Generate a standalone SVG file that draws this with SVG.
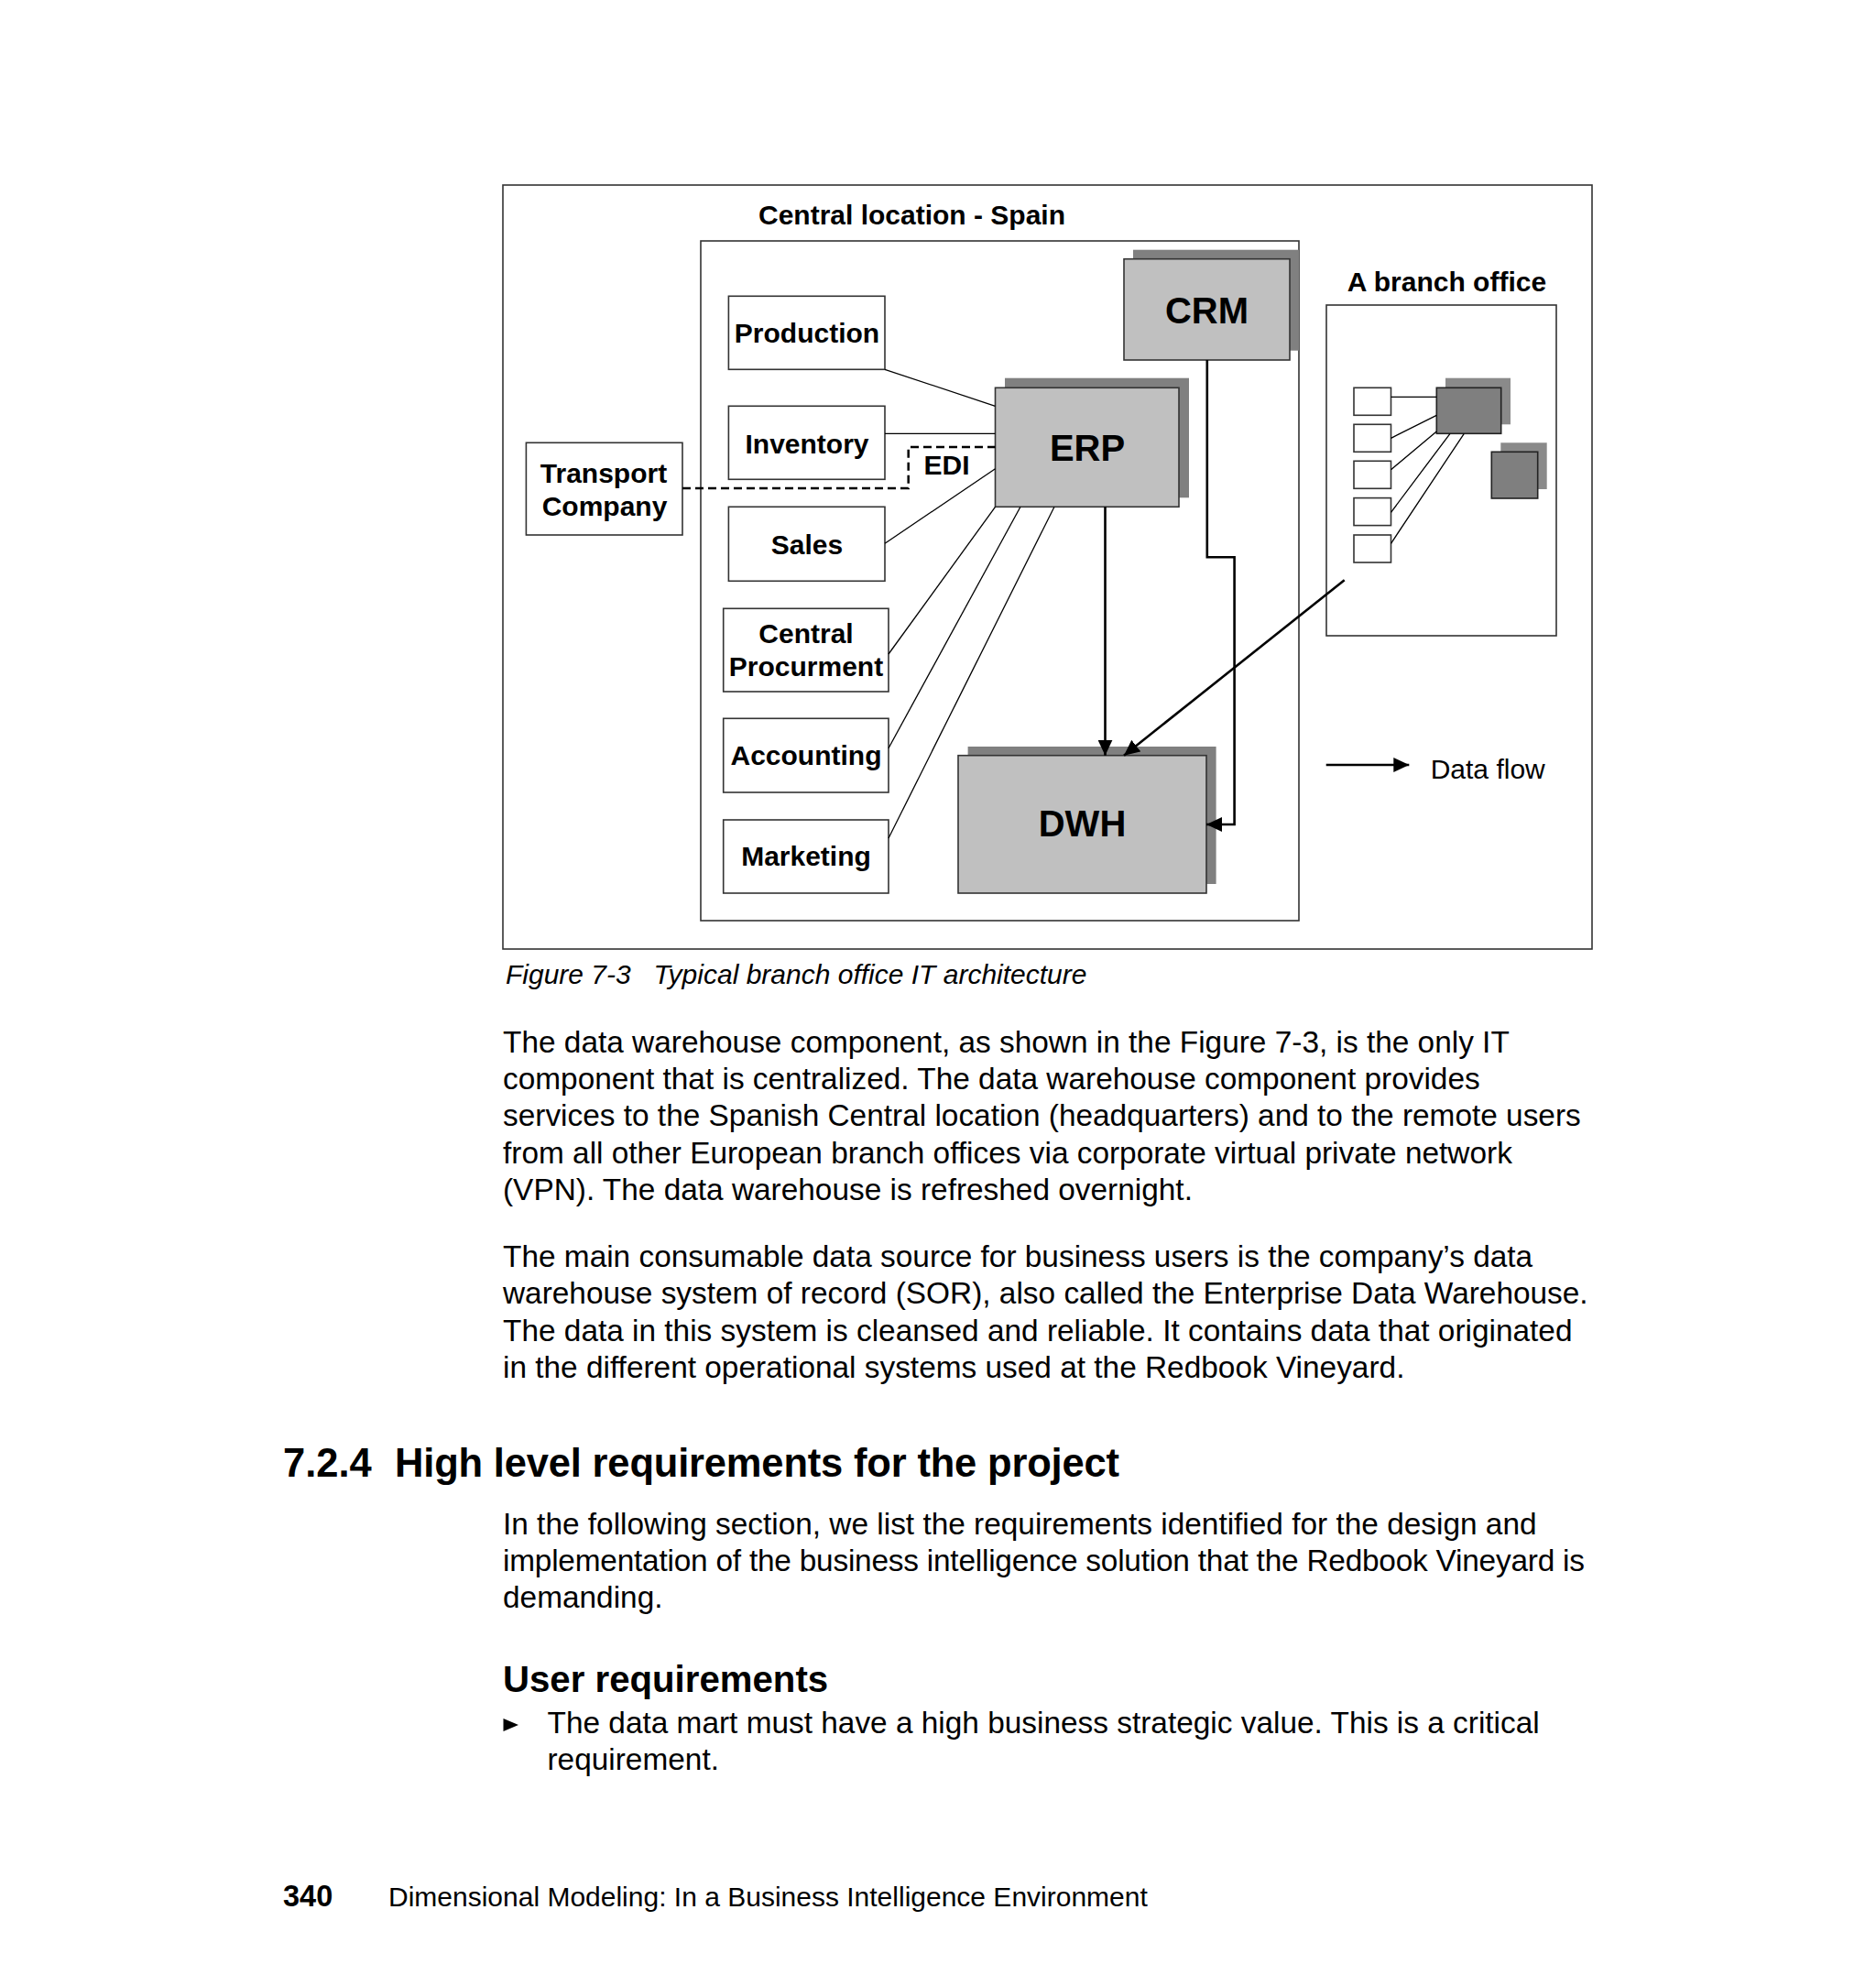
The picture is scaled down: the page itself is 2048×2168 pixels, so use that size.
<svg xmlns="http://www.w3.org/2000/svg" width="2048" height="2168" viewBox="0 0 2048 2168">
<defs>
<style>
.frame{fill:#fff;stroke:#333;stroke-width:1.6}
.box{fill:#fff;stroke:#333;stroke-width:1.6}
.sys{fill:#c0c0c0;stroke:#333;stroke-width:1.6}
.shadow{fill:#808080;stroke:none}
.dark{fill:#7f7f7f;stroke:#222;stroke-width:1.6}
.dshadow{fill:#8a8a8a;stroke:none}
.lbl{font-family:"Liberation Sans",Arial,Helvetica,sans-serif;font-weight:bold;font-size:30px;fill:#000;text-anchor:middle}
.big{font-family:"Liberation Sans",Arial,Helvetica,sans-serif;font-weight:bold;font-size:40px;fill:#000;text-anchor:middle}
.thin{fill:none;stroke:#000;stroke-width:1.3}
.flow{fill:none;stroke:#000;stroke-width:2.6}
.dash{fill:none;stroke:#000;stroke-width:2.5;stroke-dasharray:9 5}
.body{font-family:"Liberation Sans",Arial,Helvetica,sans-serif;font-size:33.4px;fill:#000}
.cap{font-family:"Liberation Sans",Arial,Helvetica,sans-serif;font-size:30px;font-style:italic;fill:#000}
</style>
<marker id="arr" markerUnits="userSpaceOnUse" markerWidth="18" markerHeight="16" refX="17" refY="8" orient="auto" viewBox="0 0 18 16">
<path d="M0,0 L17,8 L0,16 z" fill="#000"/>
</marker>
</defs>
<rect x="0" y="0" width="2048" height="2168" fill="#fff"/>

<g id="figure-frame">
<rect class="frame" x="549" y="202" width="1189" height="834"/>
</g>

<g id="central-location">
<rect class="frame" x="765" y="263" width="653" height="742"/>
<text class="lbl" x="995.5" y="245">Central location - Spain</text>
</g>

<g id="branch-office">
<rect class="frame" x="1448" y="333" width="251" height="361"/>
<text class="lbl" x="1579.5" y="318">A branch office</text>
<rect class="box" x="1478" y="423.3" width="40.5" height="30"/>
<rect class="box" x="1478" y="463.3" width="40.5" height="30"/>
<rect class="box" x="1478" y="503.3" width="40.5" height="30"/>
<rect class="box" x="1478" y="543.6" width="40.5" height="30"/>
<rect class="box" x="1478" y="584" width="40.5" height="30"/>
<rect class="dshadow" x="1578" y="412.7" width="71" height="50.6"/>
<rect class="dark" x="1568.3" y="423.3" width="70.4" height="50"/>
<rect class="dshadow" x="1638.3" y="483.3" width="50.4" height="50.7"/>
<rect class="dark" x="1628.3" y="493.3" width="50.4" height="50.7"/>
<path class="thin" d="M1518.5,433.3 H1568.3 M1518.5,478.3 L1568.3,453.3 M1518.5,512.7 L1568.3,471 M1518.5,559.3 L1583,473.3 M1518.5,593.3 L1598.3,473.3"/>
</g>

<g id="crm">
<rect class="shadow" x="1237" y="272.7" width="181" height="110"/>
<rect class="sys" x="1227" y="282.7" width="181" height="110.3"/>
<text class="big" x="1317.5" y="352.7">CRM</text>
</g>

<g id="erp">
<rect class="shadow" x="1097" y="412.7" width="201" height="130.6"/>
<rect class="sys" x="1086.5" y="423.3" width="200.5" height="130"/>
<text class="big" x="1187" y="503">ERP</text>
</g>

<g id="dwh">
<rect class="shadow" x="1056.6" y="815" width="271" height="150"/>
<rect class="sys" x="1046" y="824.7" width="271" height="150.3"/>
<text class="big" x="1181.5" y="913.3">DWH</text>
</g>

<g id="production">
<rect class="box" x="795.4" y="323.3" width="170.6" height="80"/>
<text class="lbl" x="881" y="374">Production</text>
</g>

<g id="inventory">
<rect class="box" x="795.4" y="443.3" width="170.6" height="80"/>
<text class="lbl" x="881" y="495">Inventory</text>
</g>

<g id="sales">
<rect class="box" x="795.4" y="553.3" width="170.6" height="81"/>
<text class="lbl" x="881" y="605">Sales</text>
</g>

<g id="central-procurment">
<rect class="box" x="789.7" y="664.3" width="180.3" height="90.7"/>
<text class="lbl" x="880" y="701.7">Central</text>
<text class="lbl" x="880" y="738.3">Procurment</text>
</g>

<g id="accounting">
<rect class="box" x="789.7" y="784.3" width="180.3" height="80.7"/>
<text class="lbl" x="880" y="835">Accounting</text>
</g>

<g id="marketing">
<rect class="box" x="789.7" y="895" width="180.3" height="80"/>
<text class="lbl" x="880" y="945">Marketing</text>
</g>

<g id="transport-company">
<rect class="box" x="574.4" y="483.3" width="170.6" height="100.7"/>
<text class="lbl" x="659" y="526.7">Transport</text>
<text class="lbl" x="660" y="563">Company</text>
</g>

<g id="connectors">
<path class="thin" d="M966,403.3 L1086.5,443.3"/>
<path class="thin" d="M966,473.3 H1086.5"/>
<path class="thin" d="M966,593.3 L1086.5,511.7"/>
<path class="thin" d="M1086.5,553.3 L970,714"/>
<path class="thin" d="M1114,553.3 L970,816.7"/>
<path class="thin" d="M1151,553.3 L970,915"/>
<path class="dash" d="M745,533 H991.7 V488 H1086.5"/>
<text class="lbl" x="1033.5" y="518.3">EDI</text>
<path class="flow" d="M1206.5,553.3 V824.7" marker-end="url(#arr)"/>
<path class="flow" d="M1317.8,393 V608.3 H1347.6 V900 H1317" marker-end="url(#arr)"/>
<path class="flow" d="M1467.7,633.3 L1227,824.7" marker-end="url(#arr)"/>
</g>

<g id="legend">
<path class="flow" d="M1447.7,835 H1538.3" marker-end="url(#arr)"/>
<text x="1561.7" y="850" font-family="'Liberation Sans',Arial,Helvetica,sans-serif" font-size="30" fill="#000">Data flow</text>
</g>

<g id="caption">
<text class="cap" x="552" y="1074.4">Figure 7-3</text>
<text class="cap" x="713.5" y="1074.4">Typical branch office IT architecture</text>
</g>

<g id="page-text">
<text class="body" x="549" y="1149">The data warehouse component, as shown in the Figure 7-3, is the only IT</text>
<text class="body" x="549" y="1189.2">component that is centralized. The data warehouse component provides</text>
<text class="body" x="549" y="1229.4">services to the Spanish Central location (headquarters) and to the remote users</text>
<text class="body" x="549" y="1269.6">from all other European branch offices via corporate virtual private network</text>
<text class="body" x="549" y="1309.8">(VPN). The data warehouse is refreshed overnight.</text>
<text class="body" x="549" y="1383.3">The main consumable data source for business users is the company’s data</text>
<text class="body" x="549" y="1423.4">warehouse system of record (SOR), also called the Enterprise Data Warehouse.</text>
<text class="body" x="549" y="1463.5">The data in this system is cleansed and reliable. It contains data that originated</text>
<text class="body" x="549" y="1503.6">in the different operational systems used at the Redbook Vineyard.</text>
<text x="309" y="1611.7" font-family="'Liberation Sans',Arial,Helvetica,sans-serif" font-weight="bold" font-size="43.5" fill="#000">7.2.4</text>
<text x="431" y="1611.7" font-family="'Liberation Sans',Arial,Helvetica,sans-serif" font-weight="bold" font-size="43.5" fill="#000" textLength="791" lengthAdjust="spacing">High level requirements for the project</text>
<text class="body" x="549" y="1675">In the following section, we list the requirements identified for the design and</text>
<text class="body" x="549" y="1715" textLength="1181" lengthAdjust="spacing">implementation of the business intelligence solution that the Redbook Vineyard is</text>
<text class="body" x="549" y="1755">demanding.</text>
<text x="549" y="1846.7" font-family="'Liberation Sans',Arial,Helvetica,sans-serif" font-weight="bold" font-size="40.2" fill="#000">User requirements</text>
<path d="M549.5,1876 L566,1883 L549.5,1890 z" fill="#000"/>
<text class="body" x="597.5" y="1892.3">The data mart must have a high business strategic value. This is a critical</text>
<text class="body" x="597.5" y="1932">requirement.</text>
<text x="309" y="2080.5" font-family="'Liberation Sans',Arial,Helvetica,sans-serif" font-weight="bold" font-size="32.5" fill="#000">340</text>
<text x="424" y="2080.5" font-family="'Liberation Sans',Arial,Helvetica,sans-serif" font-size="30" fill="#000">Dimensional Modeling: In a Business Intelligence Environment</text>
</g>
</svg>
